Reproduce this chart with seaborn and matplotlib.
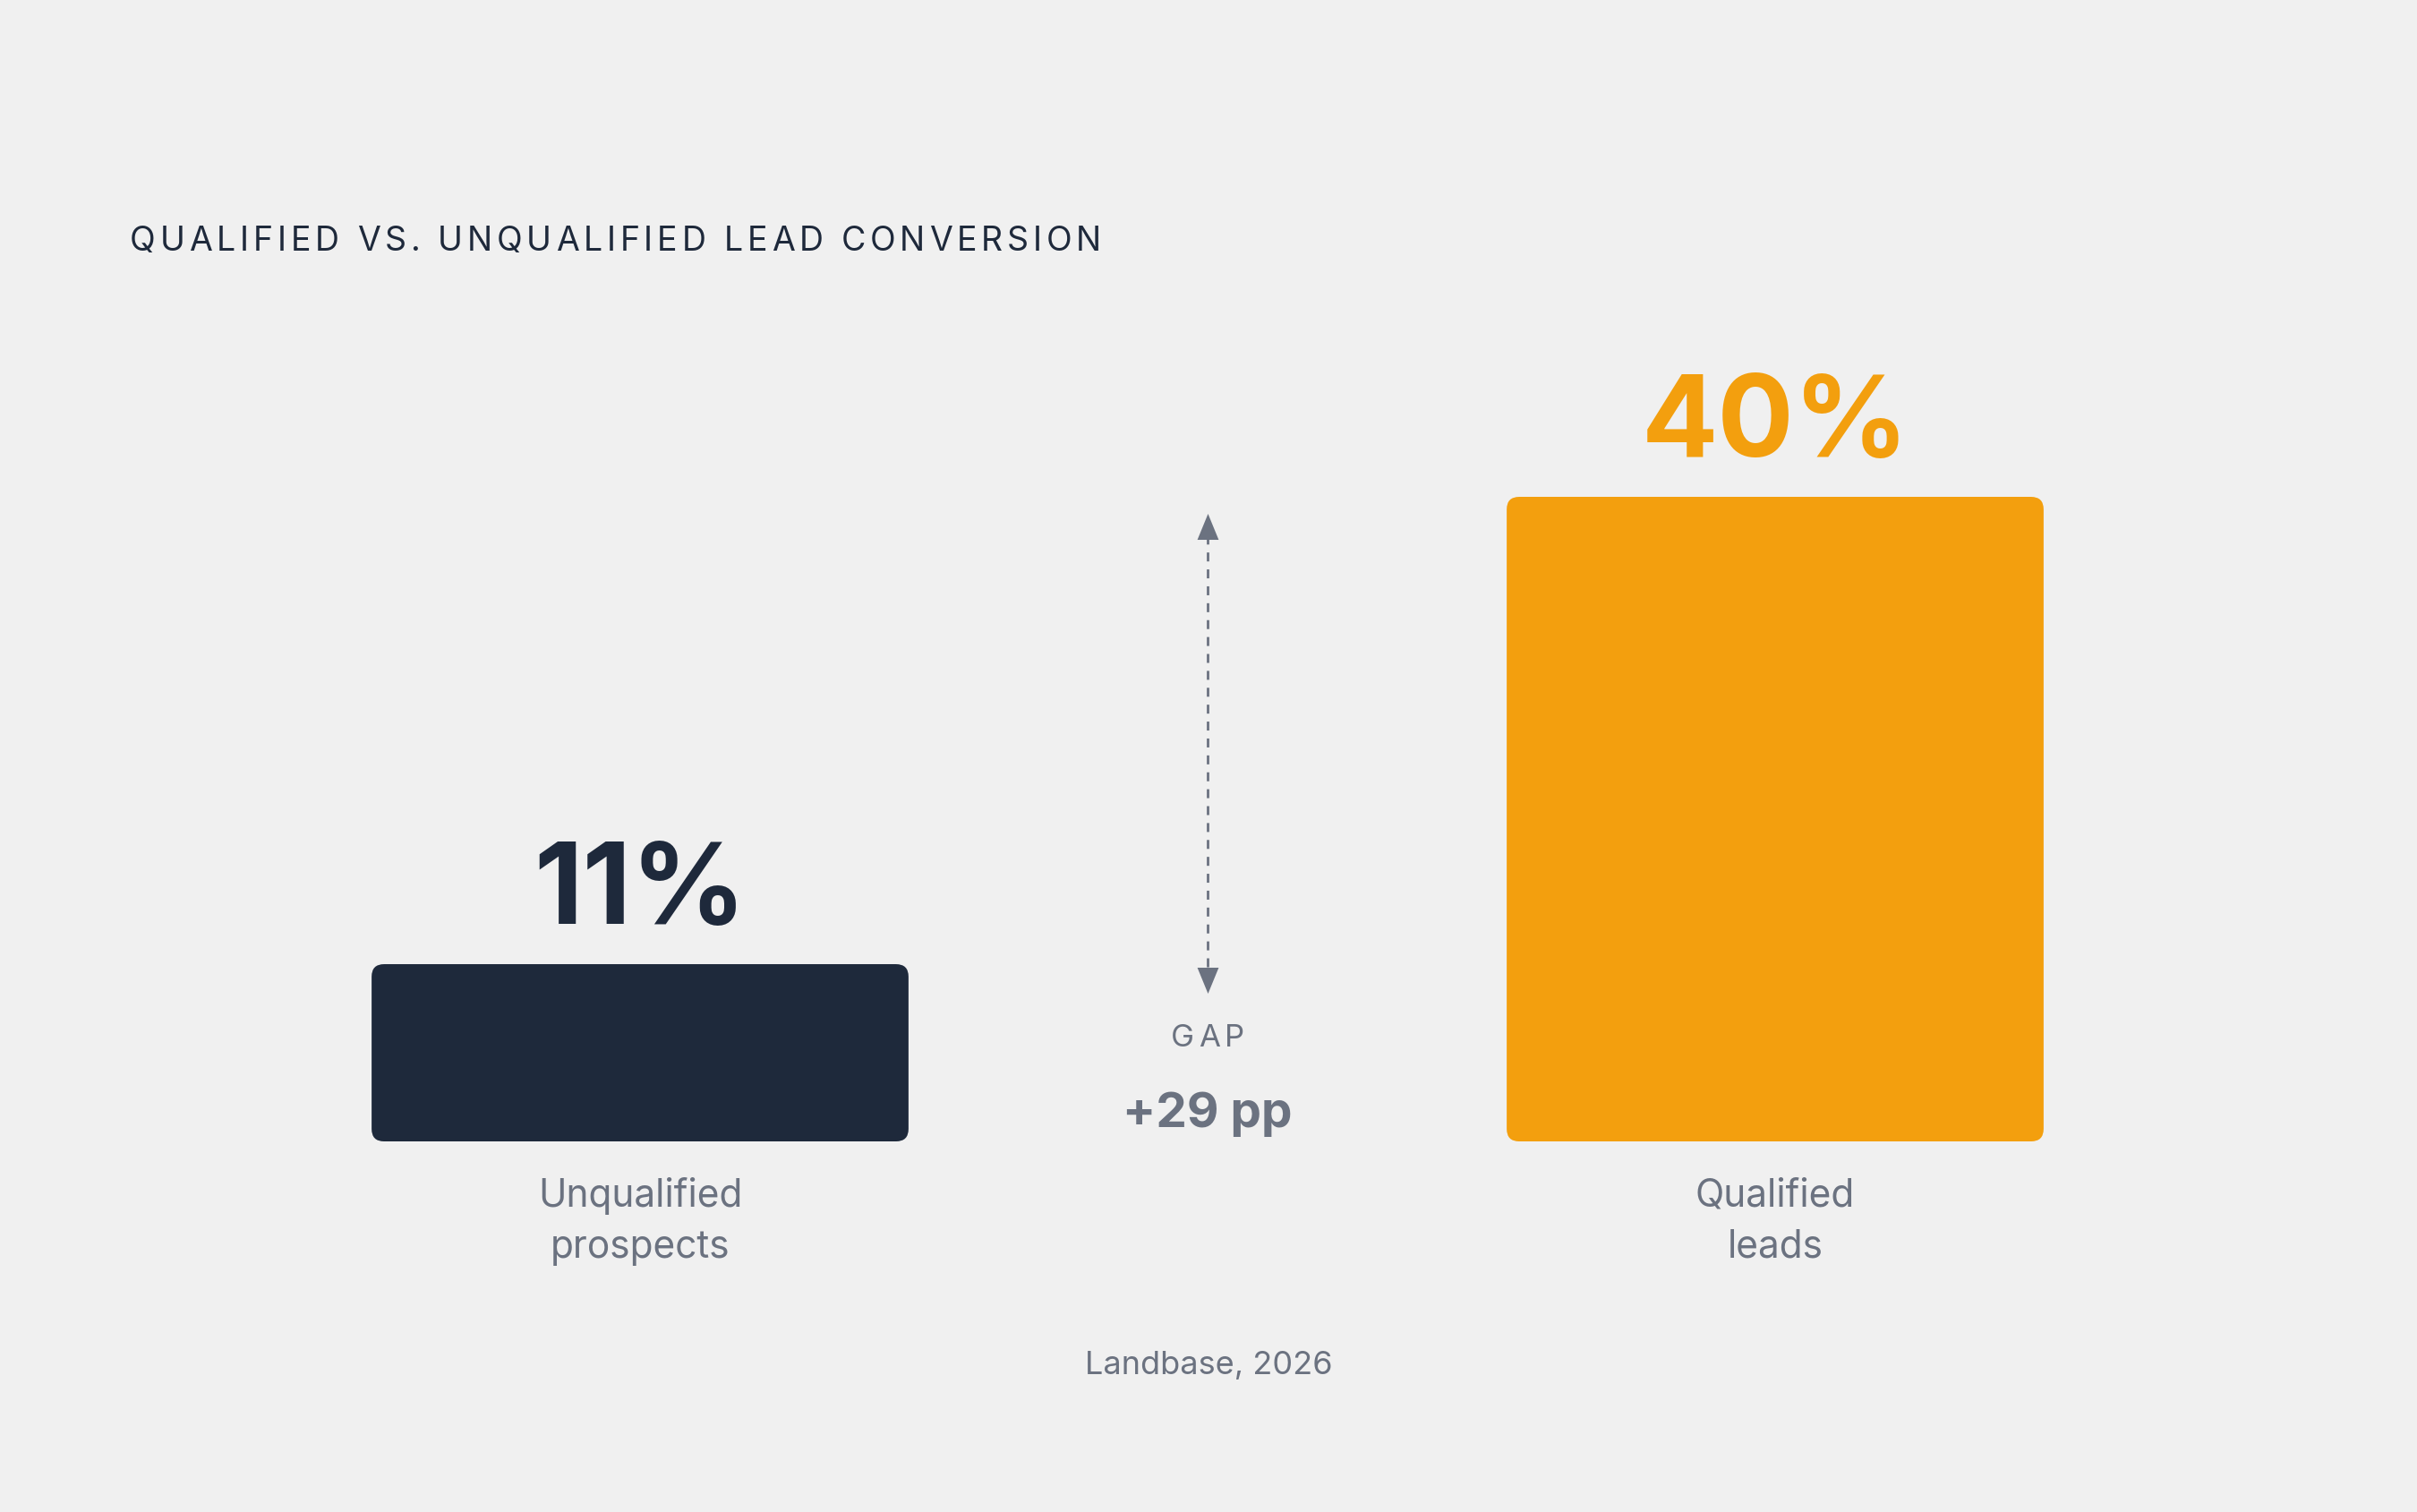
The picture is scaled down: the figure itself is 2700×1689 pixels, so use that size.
import numpy as np
import pandas as pd
import matplotlib
matplotlib.use("Agg")
import matplotlib.pyplot as plt
from matplotlib.patches import FancyBboxPatch
from matplotlib.transforms import IdentityTransform
import seaborn as sns

# data
categories = ["Unqualified\nprospects", "Qualified\nleads"]
conversion = [11, 40]
value_labels = ["11%", "40%"]
bar_colors = ["#1e293b", "#f39f0e"]

title = "QUALIFIED VS. UNQUALIFIED LEAD CONVERSION"
gap_caption = "GAP"
source = "Landbase, 2026"

BG = "#f0f0f0"
INK = "#1e293b"
GREY = "#6b7280"

sns.set_theme(style="white")
plt.rcParams["font.family"] = ["Inter", "DejaVu Sans"]

fig = plt.figure(figsize=(27, 16.89), dpi=100, facecolor=BG)
ax = fig.add_axes([0, 0.2451, 1, 0.4263])
ax.set_facecolor("none")

df = pd.DataFrame({"group": categories, "rate": conversion})
sns.barplot(data=df, x="group", y="rate", hue="group", palette=bar_colors,
            width=0.473, saturation=1, legend=False, ax=ax)

ax.set_xlim(-715 / 1268, (2700 - 715) / 1268)
ax.set_ylim(0, 40)
ax.set_xlabel("")
ax.set_ylabel("")
ax.set_yticks([])
sns.despine(ax=ax, left=True, bottom=True)
ax.tick_params(axis="x", length=0, pad=29.0, labelsize=30.5, labelcolor=GREY)
for lab in ax.get_xticklabels():
    lab.set_linespacing(1.5)

# pixels per data unit, used for rounded corners and arrow heads
o = ax.transData.transform((0, 0))
px_x = ax.transData.transform((1, 0))[0] - o[0]
px_y = ax.transData.transform((0, 1))[1] - o[1]

bars = list(ax.patches)
r_px = 14
for p in bars:
    fb = FancyBboxPatch((p.get_x(), p.get_y()), p.get_width(), p.get_height(),
                        boxstyle=f"round,pad=0,rounding_size={r_px / px_x}",
                        mutation_aspect=px_x / px_y,
                        fc=p.get_facecolor(), ec="none", zorder=2)
    ax.add_patch(fb)
    p.set_visible(False)

for p, lab, col in zip(bars, value_labels, bar_colors):
    ax.annotate(lab, (p.get_x() + p.get_width() / 2, p.get_height()),
                xytext=(0, 32.4), textcoords="offset points",
                ha="center", va="baseline", fontsize=91, fontweight="bold",
                color=col, annotation_clip=False)

# dashed gap arrow between the two bars
mid = 0.5
top_tip = conversion[1] - 1.0
bot_tip = conversion[0] - 1.8
head_h = 29 / px_y
ax.plot([mid, mid], [bot_tip + head_h, top_tip - head_h], ls=(0, (3.6, 3.2)),
        lw=2.0, color=GREY, clip_on=False)
tri_up = [(-0.41, -0.5), (0.41, -0.5), (0, 0.5)]
tri_dn = [(x, -y) for x, y in tri_up]
ax.plot([mid], [top_tip - head_h / 2], marker=tri_up, ms=20.9, color=GREY,
        mew=0, clip_on=False)
ax.plot([mid], [bot_tip + head_h / 2], marker=tri_dn, ms=20.9, color=GREY,
        mew=0, clip_on=False)


def tracked_text(x, y, s, track, ha="left", **kw):
    # letter-spaced text in pixel coords (matplotlib has no tracking)
    r = fig.canvas.get_renderer()

    def width(t):
        if not t.strip():
            return 0
        tt = fig.text(0, 0, t, **kw)
        w = tt.get_window_extent(r).width
        tt.remove()
        return w

    total = width(s) + track * (len(s) - 1)
    x0 = x - total / 2 if ha == "center" else x
    for i, ch in enumerate(s):
        if ch == " ":
            continue
        xi = x0 + width(s[:i + 1]) - width(ch) + i * track
        fig.text(xi, y, ch, transform=IdentityTransform(), ha="left",
                 va="baseline", **kw)


tracked_text(145, 1689 - 280, title, 4.8, fontsize=27, color=INK)

tip = ax.transData.transform((mid, bot_tip))
tracked_text(tip[0], tip[1] - 60, gap_caption, 5.0, ha="center",
             fontsize=25, color=GREY)
fig.text(tip[0], tip[1] - 150, f"+{conversion[1] - conversion[0]} pp",
         transform=IdentityTransform(), ha="center", va="baseline",
         fontsize=39.5, fontweight="bold", color=GREY)

fig.text(0.5, 1 - 1535 / 1689, source, ha="center", va="baseline",
         fontsize=26, color=GREY)

fig.savefig("out.png", dpi=100, facecolor=BG)
